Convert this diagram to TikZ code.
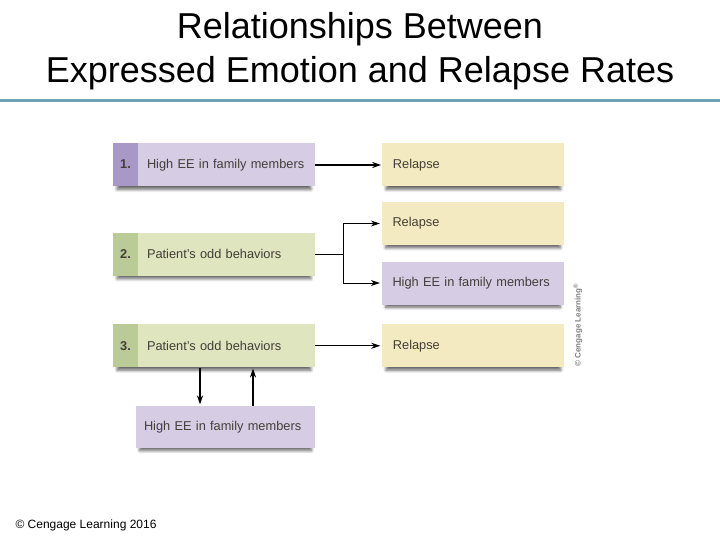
\documentclass[tikz,border=0pt]{standalone}
\usepackage{fontspec}
\setmainfont{Liberation Sans}
\usetikzlibrary{arrows.meta,positioning,shadows.blur}
\definecolor{ruleteal}{HTML}{6BA3B4}
\definecolor{eefill}{HTML}{D6CDE5}
\definecolor{eestrip}{HTML}{A898C8}
\definecolor{oddfill}{HTML}{DEE5BF}
\definecolor{oddstrip}{HTML}{BBCB97}
\definecolor{relfill}{HTML}{F4EAC1}
\definecolor{boxtext}{HTML}{433E38}
\newcommand{\boxnum}[1]{\makebox[25pt]{\textbf{#1}}\hspace{9pt}}

\begin{document}
\begin{tikzpicture}[x=1pt, y=-1pt, font=\fontsize{12.8}{15}\selectfont,
  box/.style={minimum height=43pt, inner ysep=0pt, align=left, text=boxtext,
    blur shadow={shadow xshift=0pt, shadow yshift=-4pt, shadow scale=0.96,
      shadow opacity=60, shadow blur radius=3pt, shadow blur steps=8}},
  leftbox/.style 2 args={box, fill=#1, text width=202pt, inner xsep=0pt,
    path picture={\fill[#2] (path picture bounding box.north west)
      rectangle ([xshift=25pt]path picture bounding box.south west);}},
  rightbox/.style={box, fill=relfill, text width=161pt, inner xsep=10.5pt},
  link/.style={-{Stealth[length=9pt,width=6pt]}, line width=0.9pt, shorten >=2pt},
  heavy/.style={link, line width=2.6pt, shorten >=1pt}]
  \useasboundingbox (0,0) rectangle (720,540);

  % title
  \node[font=\fontsize{36}{43}\selectfont, anchor=base] (title1) at (360,39) {Relationships Between};
  \node[font=\fontsize{36}{43}\selectfont, anchor=base] (title2) at (360,83) {Expressed Emotion and Relapse Rates};
  \draw[ruleteal, line width=3pt] (0,101) -- (720,101);

  % 1.
  \node[leftbox={eefill}{eestrip}] (ee1) at (214,165) {\boxnum{1.}High EE in family members};
  \node[rightbox, right=67pt of ee1] (rel1) {Relapse};
  \draw[heavy] (ee1) -- (rel1);

  % 2.
  \node[leftbox={oddfill}{oddstrip}, below=46pt of ee1] (odd2) {\boxnum{2.}Patient's odd behaviors};
  \node[rightbox] (rel2) at (473,223.5) {Relapse};
  \node[rightbox, fill=eefill] (ee2) at (473,283) {High EE in family members};
  \coordinate[right=28pt of odd2.east] (fork);
  \draw[link] (odd2.east) -- (fork) |- (rel2.west);
  \draw[link] (fork) |- (ee2.west);

  % 3.
  \node[leftbox={oddfill}{oddstrip}, below=48pt of odd2] (odd3) {\boxnum{3.}Patient's odd behaviors};
  \node[rightbox, right=67pt of odd3] (rel3) {Relapse};
  \node[box, fill=eefill, text width=163pt, inner xsep=8pt, minimum height=42pt,
    below=38pt of odd3, xshift=11.5pt] (ee3) {High EE in family members};
  \draw[link] (odd3.east) -- (rel3.west);
  \draw[heavy] ([xshift=-14pt]odd3.south) -- ([xshift=-14pt]odd3.south |- ee3.north);
  \draw[heavy] ([xshift=39pt]odd3.south |- ee3.north) -- ([xshift=39pt]odd3.south);

  % credits
  \node[rotate=90, font=\fontsize{8}{9}\selectfont\bfseries, text=gray] (stamp) at (578,325) {\textcopyright{} Cengage Learning\textsuperscript{\textregistered}};
  \node[anchor=base west, font=\fontsize{12}{14}\selectfont] (credit) at (12,528) {\textcopyright{} Cengage Learning 2016};
\end{tikzpicture}
\end{document}
